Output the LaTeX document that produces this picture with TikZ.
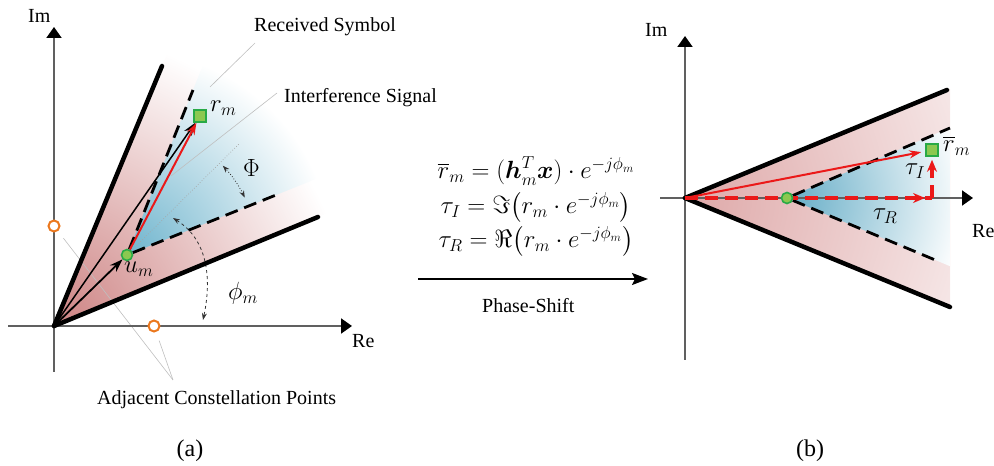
\documentclass[tikz,border=0pt]{standalone}
\usepackage{amsmath}
\usepackage{fontspec}
\setmainfont{Liberation Serif}
\usetikzlibrary{arrows.meta,decorations.markings,calc}
\definecolor{pinkc}{RGB}{205,130,130}
\definecolor{pinkb}{RGB}{222,168,168}
\definecolor{bluec}{RGB}{110,180,205}
\definecolor{blueb}{RGB}{100,172,198}
\definecolor{gfill}{RGB}{140,200,80}
\definecolor{gdraw}{RGB}{40,170,70}
\definecolor{orangec}{RGB}{235,120,30}
\definecolor{redc}{RGB}{235,25,25}
\pgfdeclareradialshading{pinkfade}{\pgfpoint{0bp}{0bp}}{color(0bp)=(pinkc); color(25bp)=(white); color(50bp)=(white)}
\pgfdeclareradialshading{pinkfadeb}{\pgfpoint{0bp}{0bp}}{color(0bp)=(pinkb); color(25bp)=(white); color(50bp)=(white)}
\pgfdeclareradialshading{bluefade}{\pgfpoint{0bp}{0bp}}{color(0bp)=(bluec); color(25bp)=(white); color(50bp)=(white)}
\pgfdeclareradialshading{bluefadeb}{\pgfpoint{0bp}{0bp}}{color(0bp)=(blueb); color(25bp)=(white); color(50bp)=(white)}
\pgfdeclarelayer{shadelayer}
\pgfdeclarelayer{linelayer}
\pgfsetlayers{shadelayer,linelayer,main}
\tikzset{
  axisline/.style={draw=gray!75!black, line width=2pt, -{Triangle[length=11pt,width=15pt,color=black]}},
  bound/.style={line width=4.5pt, line cap=round},
  dashb/.style={line width=2.8pt, dash pattern=on 13pt off 7pt},
  vecarrow/.style={line width=1.8pt, -{Stealth[length=13pt,width=9pt]}},
  redarrow/.style={draw=redc, line width=2pt, -{Stealth[length=12pt,width=8pt]}},
  reddash/.style={draw=redc, line width=3.2pt, dash pattern=on 13pt off 7pt},
  leader/.style={draw=gray!50, line width=0.6pt},
  dotline/.style={draw=gray!70, line width=0.7pt, dotted},
  dotarc/.style={draw=gray!40!black, line width=0.8pt, dotted, {Stealth[length=7pt,width=5pt]}-{Stealth[length=7pt,width=5pt]}},
  dasharc/.style={draw=gray!40!black, line width=0.8pt, dashed, {Stealth[length=7pt,width=5pt]}-{Stealth[length=7pt,width=5pt]}},
  gdot/.style={circle, fill=gfill, draw=gdraw, line width=1.6pt, minimum size=11pt, inner sep=0pt},
  gsq/.style={rectangle, fill=gfill, draw=gdraw, line width=1.6pt, minimum size=12pt, inner sep=0pt},
  odot/.style={circle, fill=white, draw=orangec, line width=2pt, minimum size=11pt, inner sep=0pt},
  lbl/.style={font=\fontsize{20}{24}\selectfont, inner sep=0pt},
  captxt/.style={font=\fontsize{24}{28}\selectfont, inner sep=0pt},
  mlbl/.style={font=\fontsize{25}{28}\selectfont, inner sep=0pt},
  eqn/.style={font=\fontsize{26}{34.5}\selectfont, inner sep=0pt, align=center},
  shiftarrow/.style={line width=2pt, -{Stealth[length=16pt,width=12pt,inset=3pt]}}
}
\begin{document}
\begin{tikzpicture}[x=1pt,y=1pt]
\useasboundingbox (0,0) rectangle (994,466);
% ---------- panel (a) coordinates ----------
\coordinate (O) at (54,140);
\coordinate (imbot) at (54,94);
\coordinate (imtop) at (54,439);
\coordinate (relft) at (8,140);
\coordinate (rergt) at (352,140);
\coordinate (ub) at (162,400);
\coordinate (lb) at (318,249);
\coordinate (umc) at (127,211);
\coordinate (ud) at (193,376);
\coordinate (ld) at (281,273);
\coordinate (dotend) at (240,323);
\coordinate (phA) at (173,248);
\coordinate (phB) at (203,146);
\coordinate (rsA) at (255,423);
\coordinate (rsB) at (210,379);
\coordinate (isA) at (277,373);
\coordinate (isB) at (171,290);
\coordinate (adj) at (173,86);
% ---------- panel (b) coordinates ----------
\coordinate (O2) at (685,268);
\coordinate (imbot2) at (685,106);
\coordinate (imtop2) at (685,430);
\coordinate (relft2) at (660,268);
\coordinate (rergt2) at (973,268);
\coordinate (ub2) at (947,376);
\coordinate (lb2) at (950,159);
\coordinate (c2c) at (787,268);
\coordinate (ud2) at (950,338);
\coordinate (ld2) at (940,204);
\coordinate (corner) at (932,268);
\coordinate (psA) at (418,187);
\coordinate (psB) at (648,187);

% ---------- markers ----------
\node[odot] (oc1) at (54,240) {};
\node[odot] (oc2) at (154,140) {};
\node[gdot] (um) at (umc) {};
\node[gsq] (rm) at (200,350) {};
\node[gdot] (c2) at (c2c) {};
\node[gsq] (rb) at (932,316) {};

% ---------- shadings ----------
\begin{pgfonlayer}{shadelayer}
\begin{scope}
\clip (O) -- ($(O)!1.1!(ub)$) -- ($(O)!1.1!(lb)$) -- cycle;
\shade[shading=pinkfade] (O) circle (295);
\end{scope}
\begin{scope}
\clip (umc) -- ($(umc)!1.6!(ud)$) -- ($(umc)!1.6!(ld)$) -- cycle;
\shade[shading=bluefade] (umc) circle (205);
\end{scope}
\begin{scope}
\clip (O2) -- (950,377.2) -- (950,159) -- cycle;
\shade[shading=pinkfadeb] (O2) circle (400);
\end{scope}
\begin{scope}
\clip (c2c) -- (950,338.4) -- (950,199.8) -- cycle;
\shade[shading=bluefadeb] (c2c) circle (180);
\end{scope}
\end{pgfonlayer}

% ---------- lines ----------
\begin{pgfonlayer}{linelayer}
% leaders
\draw[leader] (rsA) -- (rsB);
\draw[leader] (isA) -- (isB);
\draw[leader, shorten >=9pt] (adj) -- (oc1);
\draw[leader, shorten >=9pt] (adj) -- (oc2);
\draw[dotline] (umc) -- (dotend);
% angle arcs
\draw[dotarc] ($(umc)+(26:131)$) arc[start angle=26, end angle=43, radius=131];
\draw[dasharc] (phA) to[out=-32,in=78] (phB);
% axes
\draw[axisline] (imbot) -- (imtop);
\draw[axisline] (relft) -- (rergt);
\draw[axisline] (imbot2) -- (imtop2);
\draw[axisline] (relft2) -- (rergt2);
% boundaries
\draw[bound] (O) -- (ub);
\draw[bound] (O) -- (lb);
\draw[bound] (O2) -- (ub2);
\draw[bound] (O2) -- (lb2);
\draw[dashb] (um) -- (ud);
\draw[dashb] (um) -- (ld);
\draw[dashb] (c2) -- (ud2);
\draw[dashb] (c2) -- (ld2);
% vectors (a)
\draw[vecarrow] (O) -- (um);
\draw[vecarrow, line width=1.5pt] (O) -- (rm);
\draw[redarrow] (um) -- (rm);
% vectors (b)
\draw[reddash, postaction={decorate}, decoration={markings, mark=at position -7pt with {\arrow{Stealth[length=12pt,width=10pt,color=redc]}}}] (O2) -- (corner);
\draw[reddash, -{Stealth[length=12pt,width=10pt]}, shorten >=3pt] (corner) -- (rb);
\draw[redarrow, shorten >=4pt] (O2) -- (rb);
% phase shift arrow
\draw[shiftarrow] (psA) -- (psB);
\end{pgfonlayer}

% ---------- texts ----------
\node[lbl, anchor=base west] (tIm) at (28,443) {Im};
\node[lbl, anchor=base west] (tRe) at (352,118) {Re};
\node[lbl, anchor=base west] (tIm2) at (645,429) {Im};
\node[lbl, anchor=base west] (tRe2) at (972,228) {Re};
\node[lbl, anchor=base west] (trs) at (254,434) {Received Symbol};
\node[lbl, anchor=base west] (tis) at (284,363) {Interference Signal};
\node[lbl, anchor=base west] (tacp) at (97,61) {Adjacent Constellation Points};
\node[lbl, anchor=base west] (tps) at (482,153) {Phase-Shift};
\node[captxt, anchor=base] (ta) at (190,9) {(a)};
\node[captxt, anchor=base] (tb) at (810,9) {(b)};
\node[mlbl, anchor=base west] (lrm) at (210,354) {$r_m$};
\node[mlbl, anchor=base west] (lum) at (124,193) {$u_m$};
\node[mlbl, anchor=base west] (lPhi) at (243,289) {$\Phi$};
\node[mlbl, anchor=base west] (lphi) at (228,166) {$\phi_m$};
\node[mlbl, anchor=base west] (ltI) at (905,291) {$\tau_I$};
\node[mlbl, anchor=base west] (ltR) at (873,246) {$\tau_R$};
\node[mlbl, anchor=base west] (lrb) at (943,314) {$\overline{r}_m$};
\node[eqn, anchor=base] (eqs) at (536,218) {$\overline{r}_m = (\boldsymbol{h}_m^T\boldsymbol{x})\cdot e^{-j\phi_m}$\\ $\tau_I = \Im\big(r_m\cdot e^{-j\phi_m}\big)$\\ $\tau_R = \Re\big(r_m\cdot e^{-j\phi_m}\big)$};
\end{tikzpicture}
\end{document}
